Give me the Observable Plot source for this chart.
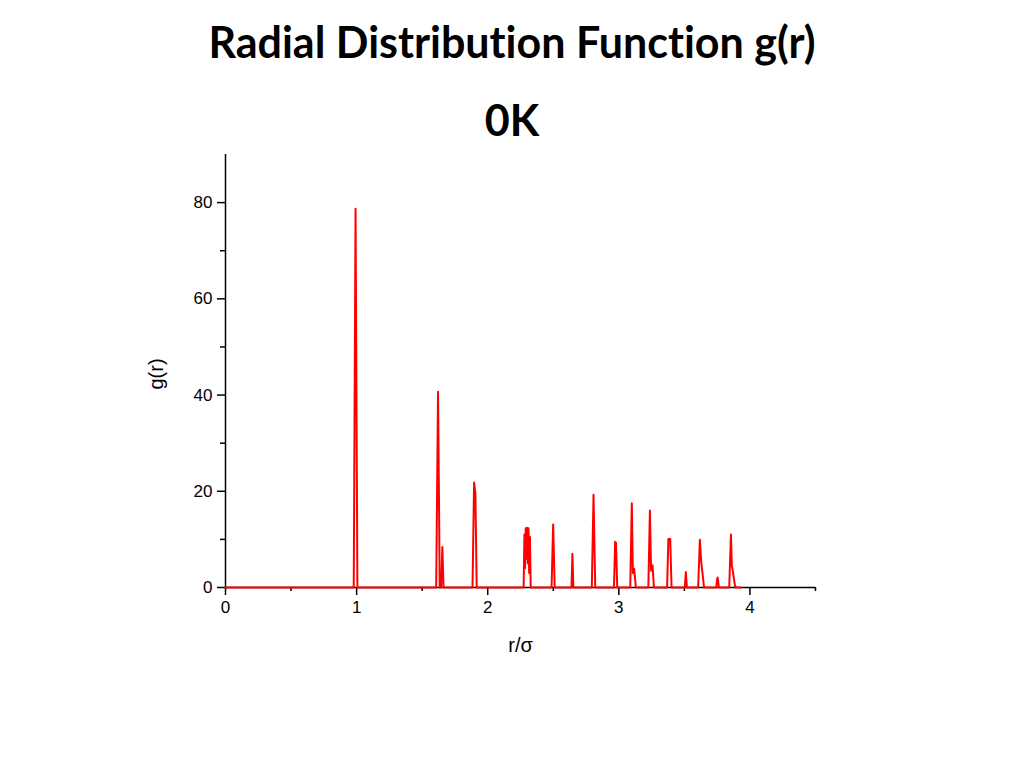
<!DOCTYPE html>
<html>
<head>
<meta charset="utf-8">
<script src="https://cdn.jsdelivr.net/npm/d3@7"></script>
<script src="https://cdn.jsdelivr.net/npm/@observablehq/plot@0.6"></script>
<style>
  html, body { margin: 0; padding: 0; background: #fff; }
  body { width: 1024px; height: 768px; position: relative; overflow: hidden; }
  .title { position: absolute; left: 0; width: 1024px; text-align: center;
           font-family: Lato, "Open Sans", sans-serif; font-weight: bold; font-size: 43px; line-height: 43px; color: #000;
           font-variant-ligatures: none; font-feature-settings: "liga" 0, "clig" 0; }
  #chart { position: absolute; left: 0; top: 140px; }
</style>
</head>
<body>
<div class="title" id="t1" style="top:20px">Radial Distribution Function g(r)</div>
<div class="title" id="t2" style="top:98px">0K</div>
<div id="chart"></div>
<script>
// r/σ sample points and g(r) values
const r = [
  0, 0.978, 0.992, 1.006,
  1.607, 1.621, 1.634, 1.645, 1.654, 1.663,
  1.884, 1.896, 1.906, 1.916,
  2.274, 2.28, 2.285, 2.29, 2.295, 2.3, 2.306, 2.311, 2.316, 2.322, 2.328,
  2.487, 2.499, 2.511,
  2.639, 2.646, 2.653,
  2.794, 2.807, 2.82,
  2.963, 2.972, 2.978, 2.988,
  3.087, 3.099, 3.107, 3.117, 3.13,
  3.225, 3.237, 3.246, 3.257, 3.268,
  3.368, 3.378, 3.392, 3.402,
  3.503, 3.511, 3.519,
  3.605, 3.618, 3.628, 3.636, 3.65,
  3.743, 3.749, 3.753, 3.757, 3.763,
  3.842, 3.855, 3.862, 3.868, 3.885, 3.893,
  3.93
];
const g = [
  0, 0, 78.7, 0,
  0, 40.7, 0, 0, 8.4, 0,
  0, 21.8, 19.6, 0,
  0, 11.0, 4.0, 12.3, 6.0, 12.4, 5.0, 12.3, 3.0, 10.5, 0,
  0, 13.1, 0,
  0, 7.0, 0,
  0, 19.3, 0,
  0, 9.5, 9.3, 0,
  0, 17.5, 3.0, 3.9, 0,
  0, 16.0, 3.5, 4.6, 0,
  0, 10.1, 10.1, 0,
  0, 3.2, 0,
  0, 9.9, 5.5, 3.5, 0,
  0, 1.5, 2.1, 1.5, 0,
  0, 11.0, 4.5, 3.7, 0.5, 0,
  0
];
const xMajor = [0, 1, 2, 3, 4];
const xMinor = [0.5, 1.5, 2.5, 3.5, 4.5];
const yMajor = [0, 20, 40, 60, 80];
const yMinor = [10, 30, 50, 70];
const xLabel = "r/σ";
const yLabel = "g(r)";

const data = r.map((x, i) => ({r: x, g: g[i]}));

const chart = Plot.plot({
  width: 1024,
  height: 628,
  marginLeft: 225,
  marginRight: 209,
  marginTop: 14,
  marginBottom: 181,
  x: {domain: [0, 4.5]},
  y: {domain: [0, 90]},
  style: {fontFamily: "'Liberation Sans', Arial, sans-serif", fontSize: "17px", color: "#000", background: "#fff"},
  marks: [
    Plot.axisX(xMajor, {tickSize: 8, tickPadding: 5, label: null, tickFormat: d => String(d), strokeWidth: 1.5, fontSize: 17}),
    Plot.axisX(xMinor, {tickSize: 4, label: null, tickFormat: () => "", strokeWidth: 1.5}),
    Plot.axisY(yMajor, {tickSize: 8, tickPadding: 5, label: null, tickFormat: d => String(d), strokeWidth: 1.5, fontSize: 17}),
    Plot.axisY(yMinor, {tickSize: 5, label: null, tickFormat: () => "", strokeWidth: 1.5}),
    Plot.ruleY([0], {stroke: "#000", strokeWidth: 1.5}),
    Plot.ruleX([0], {y1: 0, y2: 90, stroke: "#000", strokeWidth: 1.5}),
    Plot.line(data, {x: "r", y: "g", stroke: "#ff0000", strokeWidth: 2}),
    Plot.text([yLabel], {text: d => d, frameAnchor: "left", textAnchor: "middle", dx: -69, dy: 3, rotate: -90, fontSize: 20}),
    Plot.text([xLabel], {text: d => d, frameAnchor: "bottom", textAnchor: "middle", lineAnchor: "middle", dy: 58, fontSize: 20})
  ]
});
document.getElementById("chart").appendChild(chart);
</script>
</body>
</html>
